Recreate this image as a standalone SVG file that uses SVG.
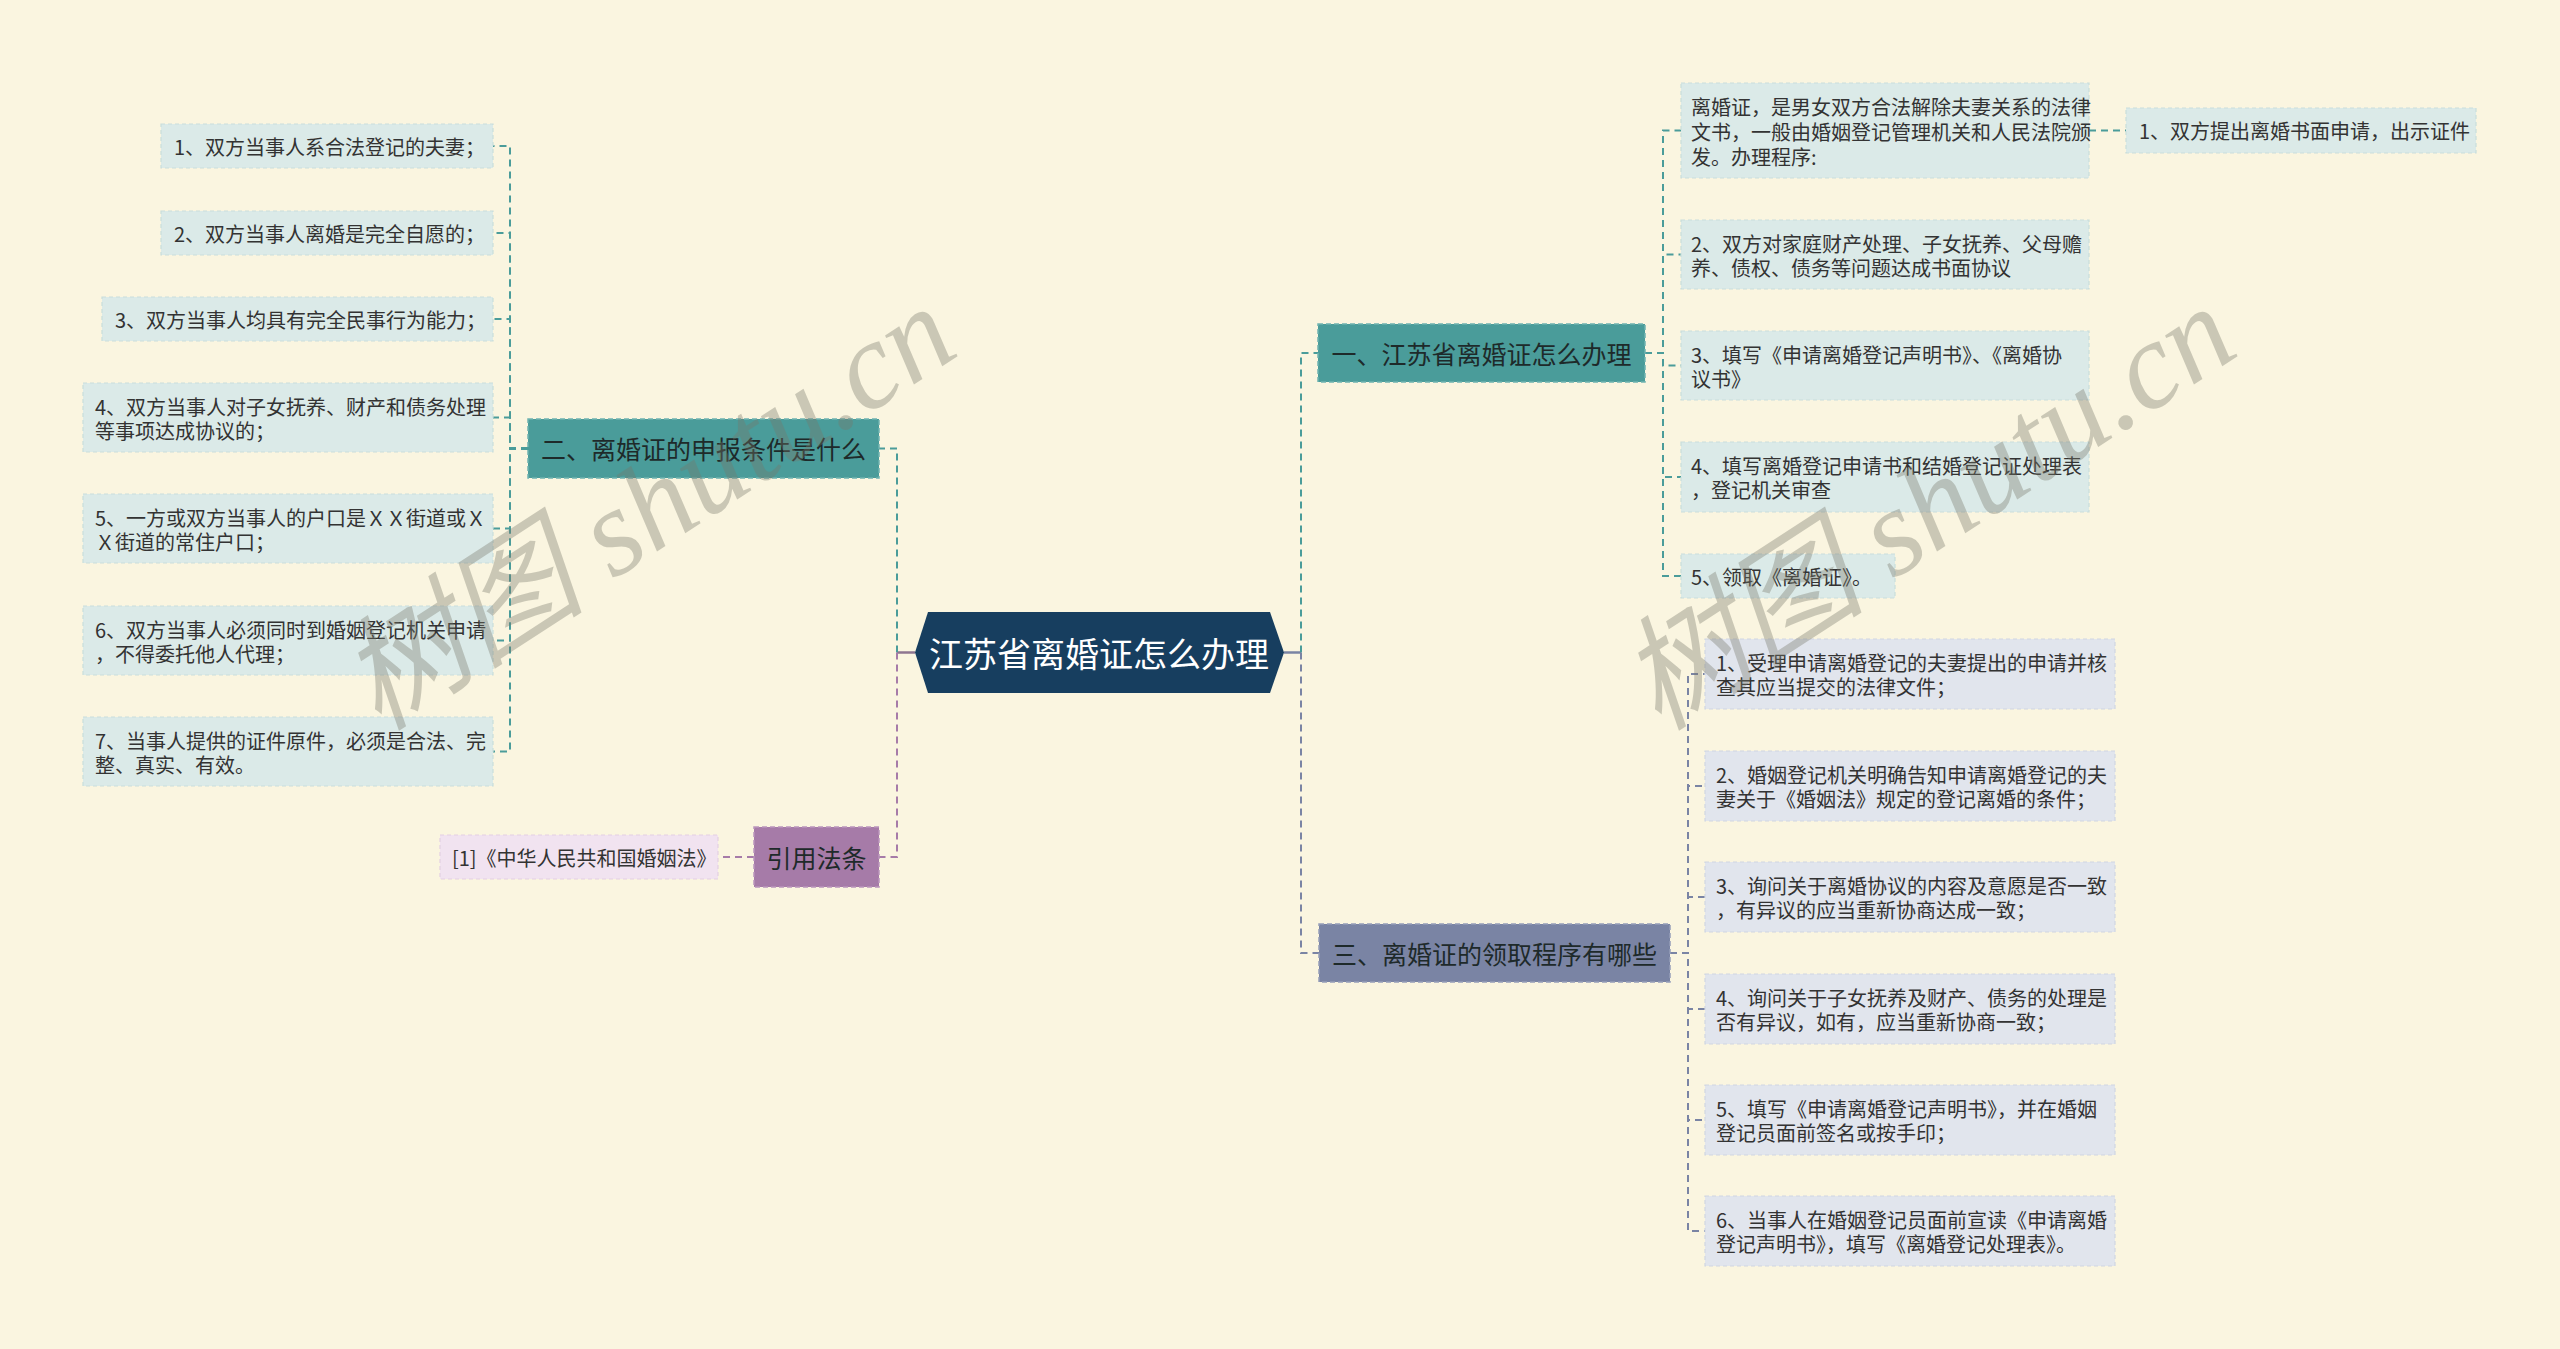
<svg xmlns="http://www.w3.org/2000/svg" width="2560" height="1349" viewBox="0 0 2560 1349">
<style>
.t{font-family:"Noto Sans CJK SC","Noto Sans",sans-serif;dominant-baseline:central}
.leaf{font-size:20px;fill:#333333}
.br{font-size:25px;fill:#1e2a2a;text-anchor:middle}
.ctr{font-size:34px;fill:#ffffff;text-anchor:middle}
.lt{fill:#dbeae8;stroke:#c9dedb;stroke-width:1.2;stroke-dasharray:4 3}
.ls{fill:#e1e5ed;stroke:#d0d6e2;stroke-width:1.2;stroke-dasharray:4 3}
.lp{fill:#f1e3f0;stroke:#e3d0e2;stroke-width:1.2;stroke-dasharray:4 3}
.bt{fill:#4a9c9a;stroke:#6fb3b0;stroke-width:1.5;stroke-dasharray:5 3}
.bs{fill:#7a84a4;stroke:#959db8;stroke-width:1.5;stroke-dasharray:5 3}
.bp{fill:#a67ba8;stroke:#bb95bc;stroke-width:1.5;stroke-dasharray:5 3}
.c{fill:none;stroke-width:2;stroke-dasharray:7 5}
.ct{stroke:#4a9c9a}
.cs{stroke:#7a84a4}
.cp{stroke:#a67ba8}
.wm{font-family:"Liberation Serif","Noto Sans CJK SC",serif;font-style:italic;font-size:124px;fill:#78786a;opacity:0.36;text-anchor:middle;dominant-baseline:central}
</style>
<rect x="0" y="0" width="2560" height="1349" fill="#faf5e0"/>

<g id="connectors">
  <path d="M915,652.5 H897" stroke="#8e7590" stroke-width="2.5" fill="none"/>
  <path d="M1284,652.5 H1301" stroke="#7a84a4" stroke-width="2.5" fill="none"/>
  <path class="c ct" d="M897,652.5 V448.5 H879"/>
  <path class="c cp" d="M897,652.5 V857 H879"/>
  <path class="c cp" d="M754,857 H718"/>
  <path class="c ct" d="M528,448.5 H510 V146 H493"/>
  <path class="c ct" d="M528,448.5 H510 V233 H493"/>
  <path class="c ct" d="M528,448.5 H510 V319 H493"/>
  <path class="c ct" d="M528,448.5 H510 V417.5 H493"/>
  <path class="c ct" d="M528,448.5 H510 V528.5 H493"/>
  <path class="c ct" d="M528,448.5 H510 V640.5 H493"/>
  <path class="c ct" d="M528,448.5 H510 V751.5 H493"/>
  <path class="c ct" d="M1301,652.5 V353 H1318"/>
  <path class="c cs" d="M1301,652.5 V953 H1319"/>
  <path class="c ct" d="M1645,353 H1663 V130.5 H1681"/>
  <path class="c ct" d="M1645,353 H1663 V254.5 H1681"/>
  <path class="c ct" d="M1645,353 H1663 V365.5 H1681"/>
  <path class="c ct" d="M1645,353 H1663 V477 H1681"/>
  <path class="c ct" d="M1645,353 H1663 V576 H1681"/>
  <path class="c ct" d="M2089,130.5 H2126"/>
  <path class="c cs" d="M1670,953 H1688 V674 H1705"/>
  <path class="c cs" d="M1670,953 H1688 V786 H1705"/>
  <path class="c cs" d="M1670,953 H1688 V897 H1705"/>
  <path class="c cs" d="M1670,953 H1688 V1009 H1705"/>
  <path class="c cs" d="M1670,953 H1688 V1120 H1705"/>
  <path class="c cs" d="M1670,953 H1688 V1231 H1705"/>
</g>

<g id="center">
  <polygon points="915,652.5 928,612 1270,612 1284,652.5 1270,693 928,693" fill="#173e5f"/>
  <text class="t ctr" x="1099" y="652">江苏省离婚证怎么办理</text>
</g>

<g id="b2">
  <rect class="bt" x="528" y="419" width="351" height="59"/>
  <text class="t br" x="703.5" y="448">二、离婚证的申报条件是什么</text>
</g>
<g id="l1"><rect class="lt" x="161" y="124" width="332" height="44"/><text class="t leaf" x="174" y="146">1、双方当事人系合法登记的夫妻；</text></g>
<g id="l2"><rect class="lt" x="161" y="211" width="332" height="44"/><text class="t leaf" x="174" y="233">2、双方当事人离婚是完全自愿的；</text></g>
<g id="l3"><rect class="lt" x="102" y="297" width="391" height="44"/><text class="t leaf" x="115" y="319">3、双方当事人均具有完全民事行为能力；</text></g>
<g id="l4"><rect class="lt" x="83" y="383" width="410" height="69"/><text class="t leaf" x="95" y="406">4、双方当事人对子女抚养、财产和债务处理</text><text class="t leaf" x="95" y="430">等事项达成协议的；</text></g>
<g id="l5"><rect class="lt" x="83" y="494" width="410" height="69"/><text class="t leaf" x="95" y="517">5、一方或双方当事人的户口是ＸＸ街道或Ｘ</text><text class="t leaf" x="95" y="541">Ｘ街道的常住户口；</text></g>
<g id="l6"><rect class="lt" x="83" y="606" width="410" height="69"/><text class="t leaf" x="95" y="629">6、双方当事人必须同时到婚姻登记机关申请</text><text class="t leaf" x="95" y="653">，不得委托他人代理；</text></g>
<g id="l7"><rect class="lt" x="83" y="717" width="410" height="69"/><text class="t leaf" x="95" y="740">7、当事人提供的证件原件，必须是合法、完</text><text class="t leaf" x="95" y="764">整、真实、有效。</text></g>

<g id="b4">
  <rect class="bp" x="754" y="827" width="125" height="60"/>
  <text class="t br" x="816.5" y="857">引用法条</text>
</g>
<g id="cite"><rect class="lp" x="440" y="835" width="278" height="44"/><text class="t leaf" x="452" y="857">[1]《中华人民共和国婚姻法》</text></g>

<g id="b1">
  <rect class="bt" x="1318" y="324" width="327" height="58"/>
  <text class="t br" x="1481.5" y="353">一、江苏省离婚证怎么办理</text>
</g>
<g id="r1"><rect class="lt" x="1681" y="83" width="408" height="95"/><text class="t leaf" x="1691" y="106">离婚证，是男女双方合法解除夫妻关系的法律</text><text class="t leaf" x="1691" y="131">文书，一般由婚姻登记管理机关和人民法院颁</text><text class="t leaf" x="1691" y="156">发。办理程序:</text></g>
<g id="r1c"><rect class="lt" x="2126" y="108" width="350" height="45"/><text class="t leaf" x="2139" y="130.5">1、双方提出离婚书面申请，出示证件</text></g>
<g id="r2"><rect class="lt" x="1681" y="220" width="408" height="69"/><text class="t leaf" x="1691" y="243">2、双方对家庭财产处理、子女抚养、父母赡</text><text class="t leaf" x="1691" y="267">养、债权、债务等问题达成书面协议</text></g>
<g id="r3"><rect class="lt" x="1681" y="331" width="408" height="69"/><text class="t leaf" x="1691" y="354">3、填写《申请离婚登记声明书》、《离婚协</text><text class="t leaf" x="1691" y="378">议书》</text></g>
<g id="r4"><rect class="lt" x="1681" y="442" width="408" height="70"/><text class="t leaf" x="1691" y="465">4、填写离婚登记申请书和结婚登记证处理表</text><text class="t leaf" x="1691" y="489">，登记机关审查</text></g>
<g id="r5"><rect class="lt" x="1681" y="554" width="214" height="44"/><text class="t leaf" x="1691" y="576">5、领取《离婚证》。</text></g>

<g id="b3">
  <rect class="bs" x="1319" y="924" width="351" height="58"/>
  <text class="t br" x="1494.5" y="953">三、离婚证的领取程序有哪些</text>
</g>
<g id="t1"><rect class="ls" x="1705" y="639" width="410" height="70"/><text class="t leaf" x="1716" y="662">1、受理申请离婚登记的夫妻提出的申请并核</text><text class="t leaf" x="1716" y="686">查其应当提交的法律文件；</text></g>
<g id="t2"><rect class="ls" x="1705" y="751" width="410" height="70"/><text class="t leaf" x="1716" y="774">2、婚姻登记机关明确告知申请离婚登记的夫</text><text class="t leaf" x="1716" y="798">妻关于《婚姻法》规定的登记离婚的条件；</text></g>
<g id="t3"><rect class="ls" x="1705" y="862" width="410" height="70"/><text class="t leaf" x="1716" y="885">3、询问关于离婚协议的内容及意愿是否一致</text><text class="t leaf" x="1716" y="909">，有异议的应当重新协商达成一致；</text></g>
<g id="t4"><rect class="ls" x="1705" y="974" width="410" height="70"/><text class="t leaf" x="1716" y="997">4、询问关于子女抚养及财产、债务的处理是</text><text class="t leaf" x="1716" y="1021">否有异议，如有，应当重新协商一致；</text></g>
<g id="t5"><rect class="ls" x="1705" y="1085" width="410" height="70"/><text class="t leaf" x="1716" y="1108">5、填写《申请离婚登记声明书》，并在婚姻</text><text class="t leaf" x="1716" y="1132">登记员面前签名或按手印；</text></g>
<g id="t6"><rect class="ls" x="1705" y="1196" width="410" height="70"/><text class="t leaf" x="1716" y="1219">6、当事人在婚姻登记员面前宣读《申请离婚</text><text class="t leaf" x="1716" y="1243">登记声明书》，填写《离婚登记处理表》。</text></g>

<g id="watermark">
  <text class="wm" transform="translate(648,508) rotate(-33)">树图 shutu.cn</text>
  <text class="wm" transform="translate(1928,508) rotate(-33)">树图 shutu.cn</text>
</g>
</svg>
